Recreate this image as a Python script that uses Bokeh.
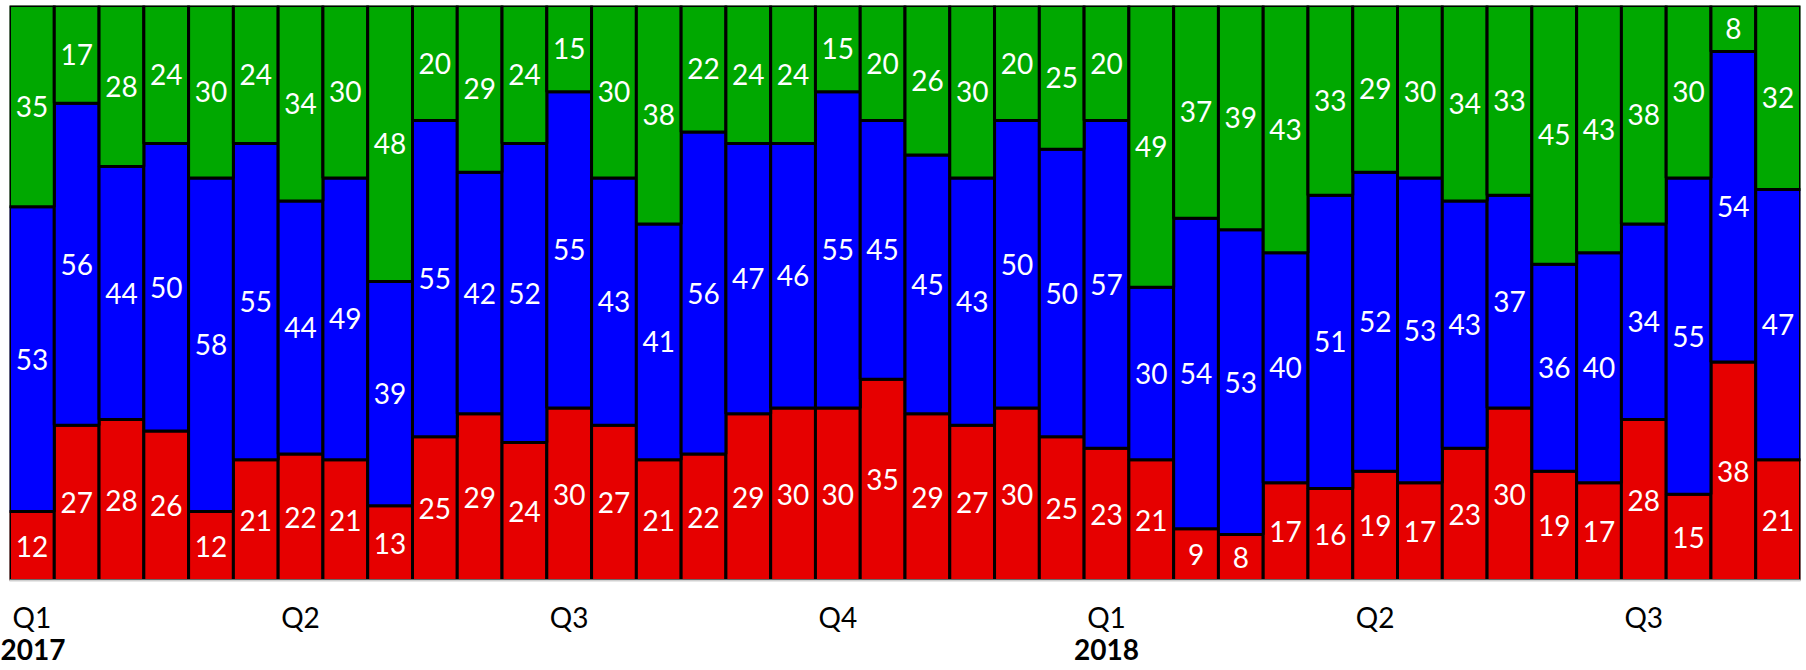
from bokeh.plotting import figure
from bokeh.models import Range1d, FixedTicker, LinearAxis, ColumnDataSource
from bokeh.core.properties import value
from bokeh.embed import file_html
from bokeh.resources import INLINE

red = [12, 27, 28, 26, 12, 21, 22, 21, 13, 25, 29, 24, 30, 27, 21, 22, 29, 30, 30, 35,
       29, 27, 30, 25, 23, 21, 9, 8, 17, 16, 19, 17, 23, 30, 19, 17, 28, 15, 38, 21]
blue = [53, 56, 44, 50, 58, 55, 44, 49, 39, 55, 42, 52, 55, 43, 41, 56, 47, 46, 55, 45,
        45, 43, 50, 50, 57, 30, 54, 53, 40, 51, 52, 53, 43, 37, 36, 40, 34, 55, 54, 47]
green = [35, 17, 28, 24, 30, 24, 34, 30, 48, 20, 29, 24, 15, 30, 38, 22, 24, 24, 15, 20,
         26, 30, 20, 25, 20, 49, 37, 39, 43, 33, 29, 30, 34, 33, 45, 43, 38, 30, 8, 32]

quarter_labels = ["Q1", "Q2", "Q3", "Q4", "Q1", "Q2", "Q3"]
quarter_bars = [0, 6, 12, 18, 24, 30, 36]
year_labels = ["2017", "2018"]
year_bars = [0, 24]

colors = {"red": "#E60000", "blue": "#0000FF", "green": "#00A800"}
FONT = "Lato"
FS = "28px"

n = len(red)
xs = [i + 0.5 for i in range(n)]
b_top = [r + b for r, b in zip(red, blue)]
g_top = [t + g for t, g in zip(b_top, green)]

p = figure(width=1806, height=670, x_range=Range1d(0, n), y_range=Range1d(0, 100),
           output_backend="svg", toolbar_location=None, y_axis_location=None,
           min_border_left=9, min_border_right=6, min_border_top=5, min_border_bottom=90)
p.outline_line_color = None
p.grid.visible = False

segs = [
    (red, [0] * n, red, colors["red"]),
    (blue, red, b_top, colors["blue"]),
    (green, b_top, g_top, colors["green"]),
]
for vals, bots, tops, col in segs:
    src = ColumnDataSource(dict(x=xs, bottom=bots, top=tops,
                                mid=[(b + t) / 2 for b, t in zip(bots, tops)],
                                label=[str(v) for v in vals]))
    p.vbar(x="x", width=1, bottom="bottom", top="top", source=src,
           fill_color=col, line_color="black", line_width=3)
    p.text(x="x", y="mid", text="label", source=src, text_align="center",
           text_baseline="middle", text_color="white",
           text_font=value(FONT), text_font_size=FS)

ax = p.xaxis[0]
ax.ticker = FixedTicker(ticks=[b + 0.5 for b in quarter_bars])
ax.major_label_overrides = {b + 0.5: l for b, l in zip(quarter_bars, quarter_labels)}
ax.major_tick_line_color = None
ax.minor_tick_line_color = None
ax.axis_line_color = "#d0d0d0"
ax.axis_line_width = 2
ax.major_label_text_font = FONT
ax.major_label_text_font_size = FS
ax.major_label_text_color = "black"
ax.major_label_standoff = 13

ax2 = LinearAxis(ticker=FixedTicker(ticks=[b + 0.5 for b in year_bars]))
ax2.major_label_overrides = {b + 0.5: l for b, l in zip(year_bars, year_labels)}
ax2.major_tick_line_color = None
ax2.minor_tick_line_color = None
ax2.axis_line_color = None
ax2.major_label_text_font = FONT
ax2.major_label_text_font_size = FS
ax2.major_label_text_font_style = "bold"
ax2.major_label_text_color = "black"
ax2.major_label_standoff = -4
p.add_layout(ax2, "below")

open("out.html", "w").write(file_html(p, INLINE))
